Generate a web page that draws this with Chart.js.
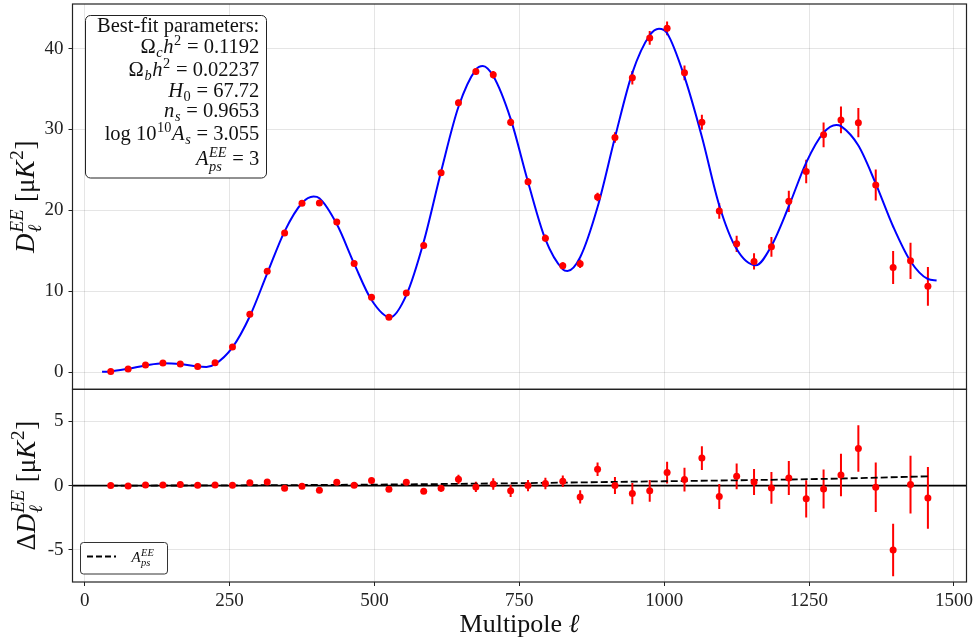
<!DOCTYPE html>
<html>
<head>
<meta charset="utf-8">
<script src="https://cdn.jsdelivr.net/npm/chart.js@4.4.0/dist/chart.umd.min.js"></script>
<style>
  html, body { margin: 0; padding: 0; background: #fff; }
  #wrap { width: 977px; height: 643px; }
</style>
</head>
<body>
<div id="wrap"><canvas id="chart" width="977" height="643"></canvas></div>
<script>
// binned EE band powers (multipole centres)
const ells = [45, 75, 105, 135, 165, 195, 225, 255, 285, 315, 345, 375, 405, 435, 465, 495,
  525, 555, 585, 615, 645, 675, 705, 735, 765, 795, 825, 855, 885, 915, 945, 975,
  1005, 1035, 1065, 1095, 1125, 1155, 1185, 1215, 1245, 1275, 1305, 1335, 1365, 1395, 1425, 1455];
const dlEE = [0.07, 0.37, 0.86, 1.11, 0.99, 0.69, 1.15, 3.08, 7.15, 12.45, 17.2, 20.86, 20.9, 18.56, 13.43, 9.24,
  6.78, 9.77, 15.65, 24.64, 33.31, 37.17, 36.76, 30.88, 23.54, 16.55, 13.14, 13.38, 21.64, 29.0, 36.4, 41.32,
  42.5, 37.0, 30.88, 19.91, 15.85, 13.68, 15.48, 21.11, 24.8, 29.33, 31.18, 30.84, 23.12, 12.94, 13.75, 10.6];
const dlErr = [0.04, 0.04, 0.04, 0.04, 0.05, 0.05, 0.06, 0.07, 0.08, 0.09, 0.1, 0.11, 0.12, 0.13, 0.13, 0.14,
  0.15, 0.17, 0.19, 0.26, 0.36, 0.4, 0.45, 0.47, 0.43, 0.45, 0.44, 0.52, 0.53, 0.66, 0.83, 0.84,
  0.85, 0.92, 0.92, 0.97, 1.0, 1.01, 1.23, 1.32, 1.45, 1.52, 1.65, 1.81, 1.92, 2.04, 2.25, 2.4];
const resid = [0.0, -0.03, 0.05, 0.05, 0.08, 0.03, 0.05, 0.03, 0.23, 0.28, -0.21, -0.05, -0.36, 0.26, 0.03, 0.39,
  -0.28, 0.26, -0.44, -0.21, 0.49, -0.10, 0.13, -0.41, 0.0, 0.16, 0.34, -0.88, 1.27, 0.0, -0.62, -0.41,
  1.01, 0.47, 2.14, -0.85, 0.72, 0.28, -0.18, 0.59, -1.03, -0.26, 0.83, 2.89, -0.13, -5.01, 0.08, -0.96];

// best-fit theory curve
const theoryEll = [30, 45, 75, 105, 135, 165, 195, 210, 225, 255, 285, 315, 345, 375, 395, 405, 435, 465, 495,
  527, 555, 585, 615, 645, 675, 687, 705, 735, 765, 795, 825, 833, 855, 885, 915, 945, 975, 991, 1005,
  1035, 1065, 1095, 1125, 1158, 1185, 1215, 1245, 1275, 1297, 1305, 1335, 1365, 1395, 1425, 1455, 1470];
const theoryDl = [0.02, 0.07, 0.40, 0.80, 1.08, 0.98, 0.68, 0.63, 0.98, 3.05, 6.9, 12.2, 17.4, 20.9, 21.7, 21.5, 18.3, 13.4, 8.9,
  6.75, 9.5, 16.1, 24.8, 32.8, 37.4, 37.85, 36.6, 31.3, 23.5, 16.4, 12.7, 12.5, 14.2, 20.4, 29.0, 37.0, 41.65, 42.45, 41.9,
  36.5, 29.1, 20.6, 15.2, 13.2, 15.6, 20.5, 25.9, 29.6, 30.56, 30.4, 28.0, 23.3, 18.0, 13.7, 11.5, 11.33];

// point-source term in the residual panel
const apsEll = [45, 250, 500, 750, 1000, 1250, 1455];
const apsDl = [0.0, 0.02, 0.08, 0.19, 0.34, 0.5, 0.72];

const xTicks = [0, 250, 500, 750, 1000, 1250, 1500];
const topTicks = [0, 10, 20, 30, 40];
const bottomTicks = [-5, 0, 5];

const paramLines = [
  [{t: 'Best-fit parameters:'}],
  [{t: 'Ω'}, {sub: 'c', it: true}, {t: 'h', it: true}, {sup: '2'}, {t: ' = 0.1192'}],
  [{t: 'Ω'}, {sub: 'b', it: true}, {t: 'h', it: true}, {sup: '2'}, {t: ' = 0.02237'}],
  [{t: 'H', it: true}, {sub: '0'}, {t: ' = 67.72'}],
  [{t: 'n', it: true}, {sub: 's', it: true}, {t: ' = 0.9653'}],
  [{t: 'log 10'}, {sup: '10'}, {t: 'A', it: true}, {sub: 's', it: true}, {t: ' = 3.055'}],
  [{t: 'A', it: true}, {sub: 'ps', sup: 'EE', it: true}, {t: ' = 3'}]
];
const paramBaselines = [32.3, 53.3, 76, 96.7, 116.7, 140, 165];

const serif = '"Liberation Serif", "DejaVu Serif", serif';
const gridColor = 'rgba(0,0,0,0.1)';
const inkColor = '#222';

function fontFor(it, size) {
  return (it ? 'italic ' : '') + size + 'px ' + serif;
}

function segWidth(ctx, s, size) {
  let w = 0;
  if (s.t) { ctx.font = fontFor(s.it, size); w += ctx.measureText(s.t).width; }
  let sw = 0;
  const ss = size * 0.7;
  if (s.sub) { ctx.font = fontFor(s.it, ss); sw = Math.max(sw, ctx.measureText(s.sub).width); }
  if (s.sup) { ctx.font = fontFor(s.it, ss); sw = Math.max(sw, ctx.measureText(s.sup).width); }
  return w + (sw ? sw + size * 0.06 : 0);
}

function drawMath(ctx, segs, x, y, size, align) {
  const total = segs.reduce((a, s) => a + segWidth(ctx, s, size), 0);
  let cx = align === 'right' ? x - total : (align === 'center' ? x - total / 2 : x);
  ctx.textAlign = 'left';
  ctx.textBaseline = 'alphabetic';
  const ss = size * 0.7;
  segs.forEach(s => {
    if (s.t) {
      ctx.font = fontFor(s.it, size);
      ctx.fillText(s.t, cx, y);
      cx += ctx.measureText(s.t).width;
    }
    let sw = 0;
    if (s.sub) {
      ctx.font = fontFor(s.it, ss);
      ctx.fillText(s.sub, cx + size * 0.03, y + size * (s.sup ? 0.28 : 0.2));
      sw = Math.max(sw, ctx.measureText(s.sub).width);
    }
    if (s.sup) {
      ctx.font = fontFor(s.it, ss);
      ctx.fillText(s.sup, cx + size * 0.03, y - size * 0.4);
      sw = Math.max(sw, ctx.measureText(s.sup).width);
    }
    if (sw) cx += sw + size * 0.06;
  });
}

function roundRect(ctx, x, y, w, h, r) {
  ctx.beginPath();
  ctx.moveTo(x + r, y);
  ctx.lineTo(x + w - r, y);
  ctx.arcTo(x + w, y, x + w, y + r, r);
  ctx.lineTo(x + w, y + h - r);
  ctx.arcTo(x + w, y + h, x + w - r, y + h, r);
  ctx.lineTo(x + r, y + h);
  ctx.arcTo(x, y + h, x, y + h - r, r);
  ctx.lineTo(x, y + r);
  ctx.arcTo(x, y, x + r, y, r);
  ctx.closePath();
}

const panelPlugin = {
  id: 'panels',
  beforeDatasetsDraw(chart) {
    const {ctx, chartArea, scales} = chart;
    const x = scales.x, yt = scales.yTop, yb = scales.yBot;
    ctx.save();
    // zero line of the residual panel
    const y0 = yb.getPixelForValue(0);
    ctx.strokeStyle = '#000';
    ctx.lineWidth = 1.8;
    ctx.beginPath();
    ctx.moveTo(chartArea.left, y0);
    ctx.lineTo(chartArea.right, y0);
    ctx.stroke();
    // error bars
    ctx.strokeStyle = '#ff0000';
    ctx.lineWidth = 2;
    ells.forEach((l, i) => {
      const px = x.getPixelForValue(l);
      ctx.beginPath();
      ctx.moveTo(px, yt.getPixelForValue(dlEE[i] - dlErr[i]));
      ctx.lineTo(px, yt.getPixelForValue(dlEE[i] + dlErr[i]));
      ctx.moveTo(px, yb.getPixelForValue(resid[i] - dlErr[i]));
      ctx.lineTo(px, yb.getPixelForValue(resid[i] + dlErr[i]));
      ctx.stroke();
    });
    ctx.restore();
  },
  afterDraw(chart) {
    const {ctx, chartArea, scales} = chart;
    const yt = scales.yTop, yb = scales.yBot;
    ctx.save();
    // panel frames
    ctx.strokeStyle = inkColor;
    ctx.lineWidth = 1.2;
    ctx.strokeRect(chartArea.left, yt.top, chartArea.right - chartArea.left, yt.bottom - yt.top);
    ctx.strokeRect(chartArea.left, yb.top, chartArea.right - chartArea.left, yb.bottom - yb.top);

    // parameter box
    roundRect(ctx, 85.5, 15.5, 181, 162.5, 5);
    ctx.fillStyle = '#fff';
    ctx.fill();
    ctx.lineWidth = 1;
    ctx.strokeStyle = inkColor;
    ctx.stroke();
    ctx.fillStyle = '#111';
    paramLines.forEach((segs, i) => drawMath(ctx, segs, 259.3, paramBaselines[i], 20.5, 'right'));

    // legend
    roundRect(ctx, 80.5, 542.5, 87, 31.5, 3);
    ctx.fillStyle = '#fff';
    ctx.fill();
    ctx.strokeStyle = '#333';
    ctx.stroke();
    ctx.strokeStyle = '#000';
    ctx.lineWidth = 1.8;
    ctx.setLineDash([6, 3]);
    ctx.beginPath();
    ctx.moveTo(87, 556.5);
    ctx.lineTo(116, 556.5);
    ctx.stroke();
    ctx.setLineDash([]);
    ctx.fillStyle = '#111';
    drawMath(ctx, [{t: 'A', it: true}, {sub: 'ps', sup: 'EE', it: true}], 131.5, 561.5, 15, 'left');

    // axis titles
    drawMath(ctx, [{t: 'Multipole '}, {t: 'ℓ', it: true}], (chartArea.left + chartArea.right) / 2, 632, 26, 'center');
    ctx.save();
    ctx.translate(33.5, (yt.top + yt.bottom) / 2);
    ctx.rotate(-Math.PI / 2);
    drawMath(ctx, [{t: 'D', it: true}, {sub: 'ℓ', sup: 'EE', it: true}, {t: ' [μ'}, {t: 'K', it: true}, {sup: '2'}, {t: ']'}], 0, 0, 27, 'center');
    ctx.restore();
    ctx.save();
    ctx.translate(34.5, (yb.top + yb.bottom) / 2);
    ctx.rotate(-Math.PI / 2);
    drawMath(ctx, [{t: 'Δ'}, {t: 'D', it: true}, {sub: 'ℓ', sup: 'EE', it: true}, {t: ' [μ'}, {t: 'K', it: true}, {sup: '2'}, {t: ']'}], 0, 0, 27, 'center');
    ctx.restore();
    ctx.restore();
  }
};

const tickFont = {family: serif, size: 19};

function fixTicks(list) {
  return s => { s.ticks = list.map(v => ({value: v})); };
}

const chart = new Chart(document.getElementById('chart'), {
  type: 'scatter',
  data: {
    datasets: [
      {
        label: 'data',
        data: ells.map((l, i) => ({x: l, y: dlEE[i]})),
        yAxisID: 'yTop',
        pointRadius: 3.5,
        pointBackgroundColor: '#ff0000',
        pointBorderWidth: 0
      },
      {
        label: 'residual',
        data: ells.map((l, i) => ({x: l, y: resid[i]})),
        yAxisID: 'yBot',
        pointRadius: 3.5,
        pointBackgroundColor: '#ff0000',
        pointBorderWidth: 0
      },
      {
        label: 'theory',
        data: theoryEll.map((l, i) => ({x: l, y: theoryDl[i]})),
        yAxisID: 'yTop',
        showLine: true,
        pointRadius: 0,
        borderColor: '#0000ff',
        borderWidth: 2,
        cubicInterpolationMode: 'monotone'
      },
      {
        label: 'A_ps',
        data: apsEll.map((l, i) => ({x: l, y: apsDl[i]})),
        yAxisID: 'yBot',
        showLine: true,
        pointRadius: 0,
        borderColor: '#000',
        borderWidth: 1.8,
        borderDash: [7, 3],
        cubicInterpolationMode: 'monotone'
      }
    ]
  },
  options: {
    responsive: false,
    animation: false,
    devicePixelRatio: 1,
    events: [],
    layout: {padding: {left: 0, right: 10.5, top: 2, bottom: 0}},
    plugins: {legend: {display: false}, tooltip: {enabled: false}},
    scales: {
      x: {
        type: 'linear',
        position: 'bottom',
        min: -21,
        max: 1521.6,
        afterBuildTicks: fixTicks(xTicks),
        afterFit: s => { s.height = 61; s.paddingLeft = 0; s.paddingRight = 0; },
        grid: {color: gridColor, tickColor: inkColor, tickLength: 4},
        border: {display: false},
        ticks: {font: tickFont, color: inkColor, padding: 4, maxRotation: 0, autoSkip: false, callback: v => String(v)}
      },
      yBot: {
        type: 'linear',
        position: 'left',
        stack: 'panels',
        stackWeight: 1,
        min: -7.5,
        max: 7.49,
        afterBuildTicks: fixTicks(bottomTicks),
        afterFit: s => { s.width = 72.5; s.paddingTop = 0; s.paddingBottom = 0; },
        grid: {color: gridColor, tickColor: inkColor, tickLength: 4},
        border: {display: false},
        ticks: {font: tickFont, color: inkColor, padding: 5, autoSkip: false, callback: v => String(v)}
      },
      yTop: {
        type: 'linear',
        position: 'left',
        stack: 'panels',
        stackWeight: 2,
        min: -2.14,
        max: 45.51,
        afterBuildTicks: fixTicks(topTicks),
        afterFit: s => { s.width = 72.5; s.paddingTop = 0; s.paddingBottom = 0; },
        grid: {color: gridColor, tickColor: inkColor, tickLength: 4},
        border: {display: false},
        ticks: {font: tickFont, color: inkColor, padding: 5, autoSkip: false, callback: v => String(v)}
      }
    }
  },
  plugins: [panelPlugin]
});
</script>
</body>
</html>
